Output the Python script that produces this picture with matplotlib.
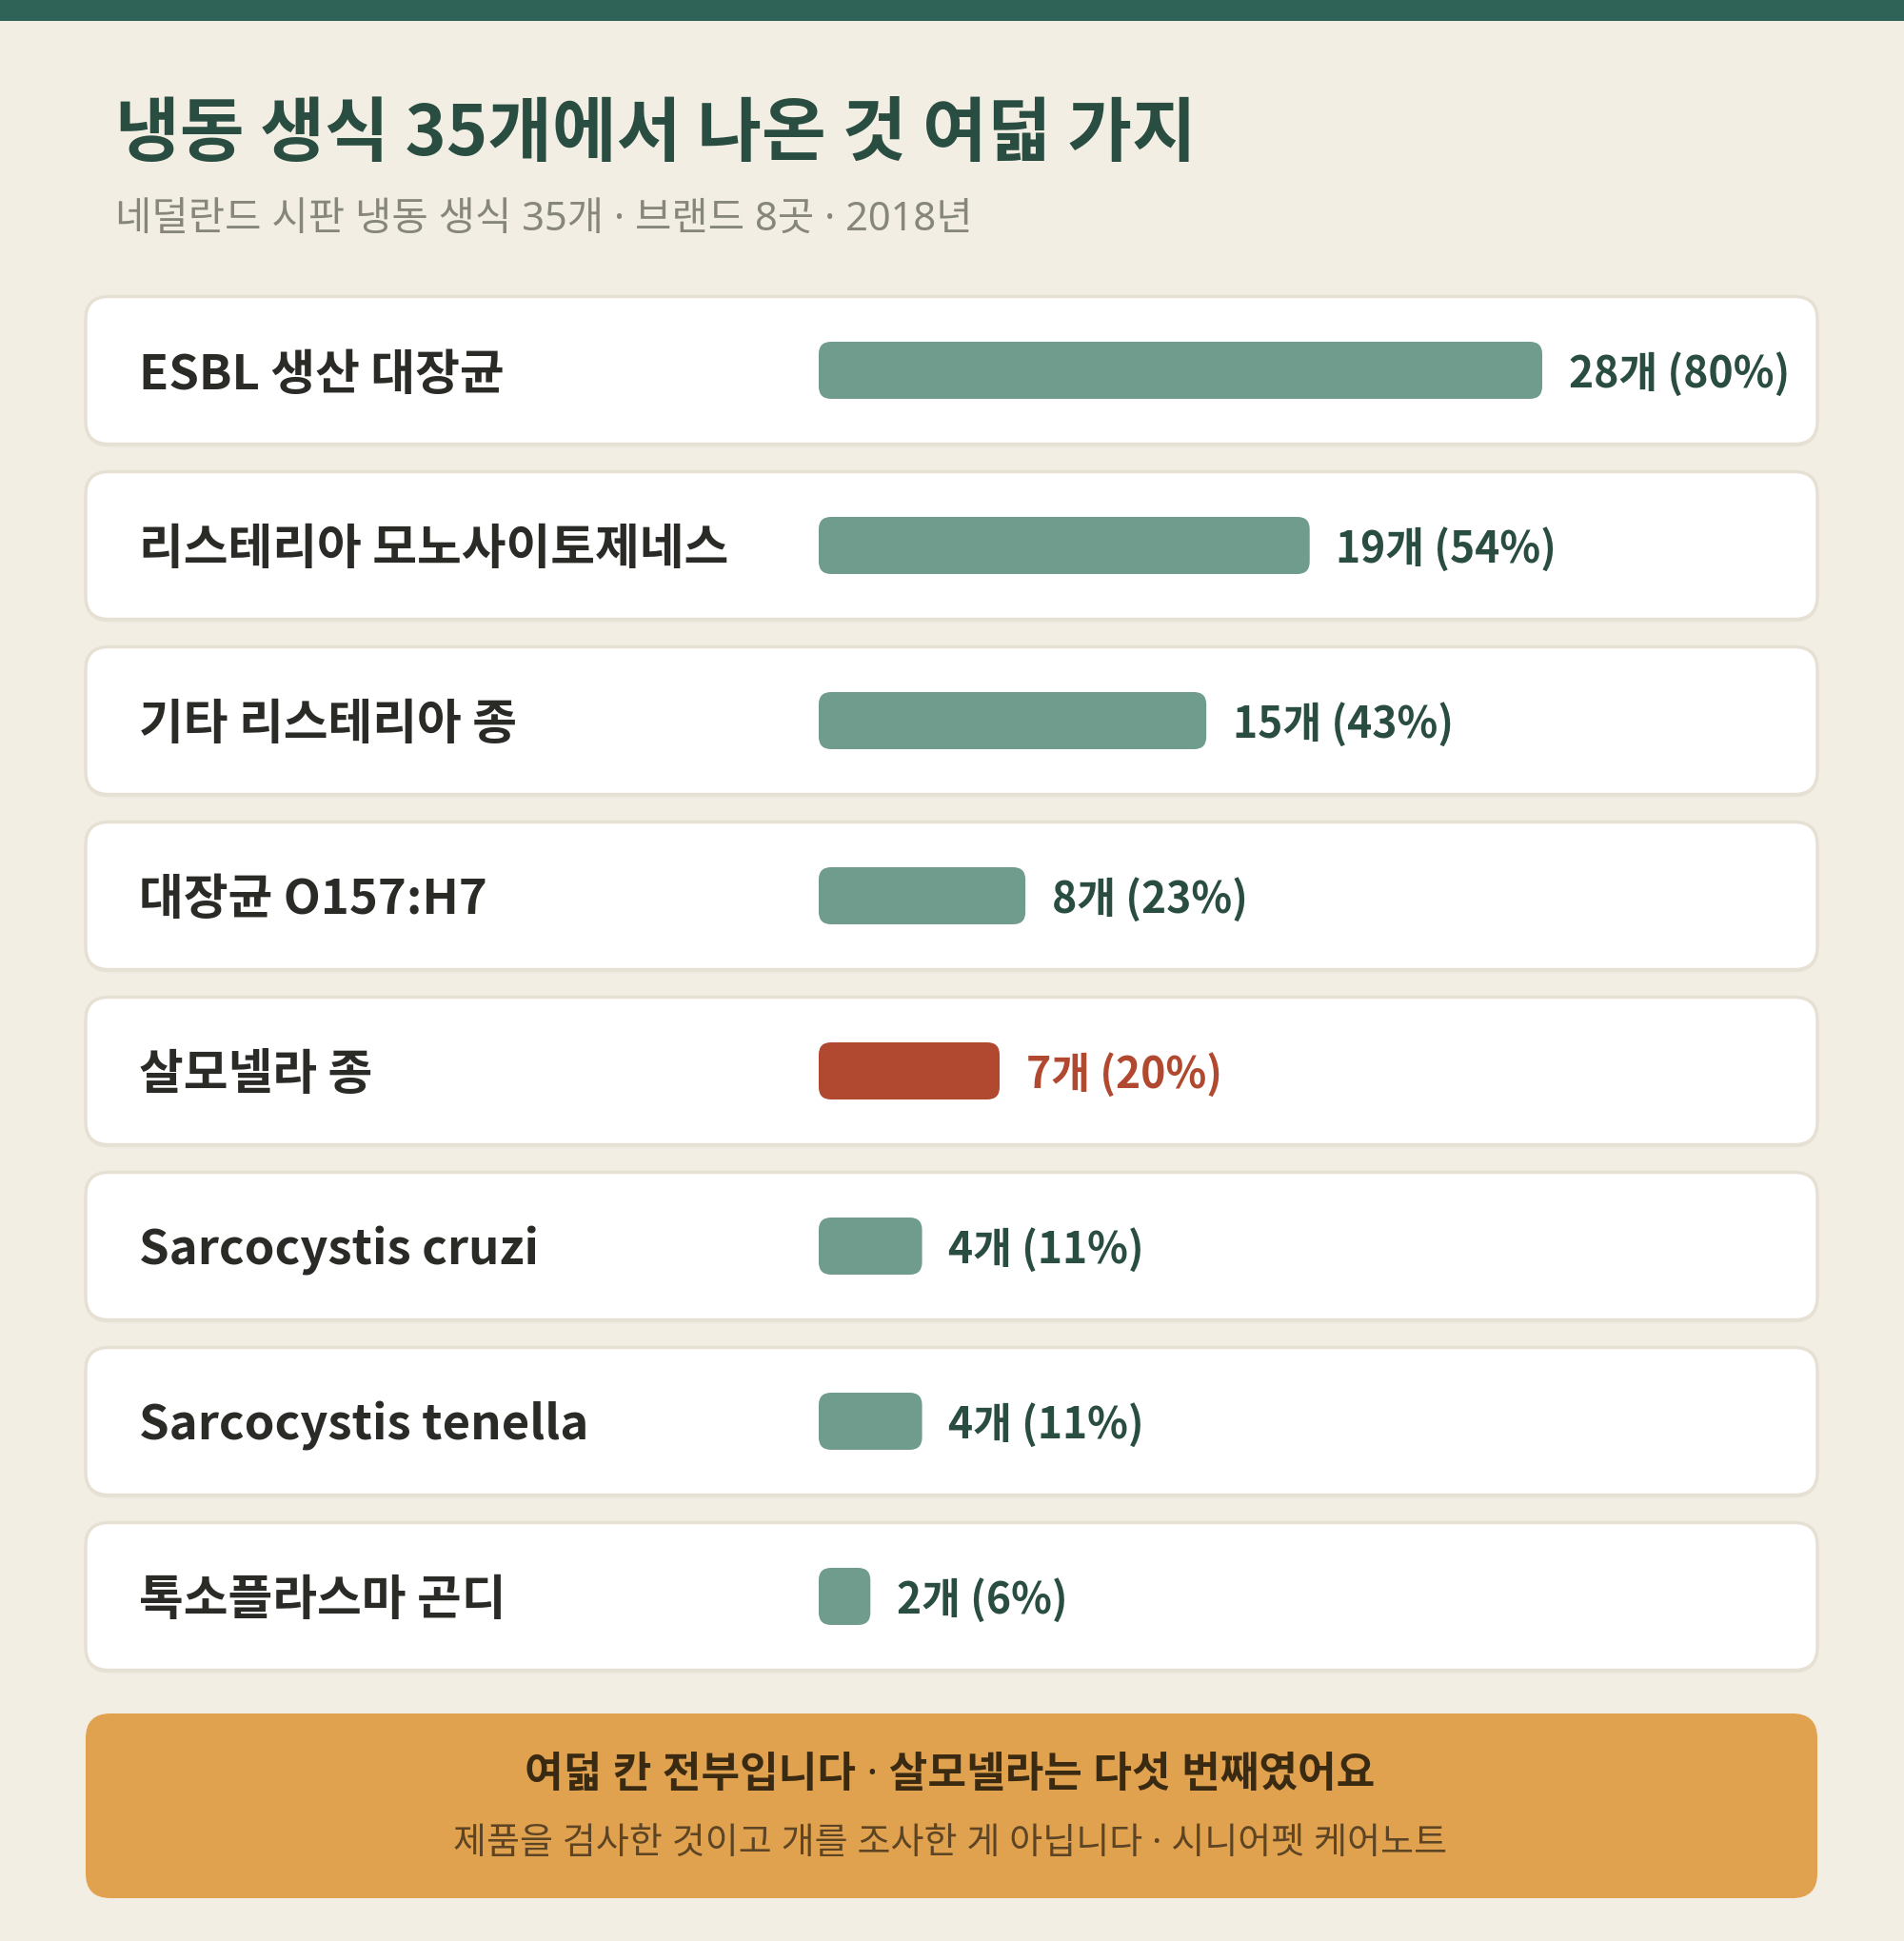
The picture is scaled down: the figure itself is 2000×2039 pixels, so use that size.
import matplotlib.pyplot as plt
from matplotlib.patches import FancyBboxPatch, Rectangle

plt.rcParams['font.family'] = ['Noto Sans CJK KR', 'DejaVu Sans']
# texts with a middle dot: take Latin glyphs from Noto Sans so the dot stays narrow
DOT_FAMILY = ['Noto Sans', 'Noto Sans CJK KR', 'DejaVu Sans']

# data
categories = [
    "ESBL 생산 대장균",
    "리스테리아 모노사이토제네스",
    "기타 리스테리아 종",
    "대장균 O157:H7",
    "살모넬라 종",
    "Sarcocystis cruzi",
    "Sarcocystis tenella",
    "톡소플라스마 곤디",
]
counts = [28, 19, 15, 8, 7, 4, 4, 2]
percents = [80, 54, 43, 23, 20, 11, 11, 6]
total_samples = 35
highlight = "살모넬라 종"

title = "냉동 생식 35개에서 나온 것 여덟 가지"
subtitle = "네덜란드 시판 냉동 생식 35개 · 브랜드 8곳 · 2018년"
note_main = "여덟 칸 전부입니다 · 살모넬라는 다섯 번째였어요"
note_sub = "제품을 검사한 것이고 개를 조사한 게 아닙니다 · 시니어펫 케어노트"

# colours
BG = "#f2eee3"
TOPBAR = "#2f6357"
TITLE_C = "#2a4d42"
SUB_C = "#86867a"
LABEL_C = "#2a2a26"
VALUE_C = "#2a4d42"
BAR_C = "#6f9c8c"
RED_C = "#b0492f"
CARD_EDGE = "#e6e0d2"
NOTE_BG = "#e0a24e"
NOTE_C1 = "#3b2a12"
NOTE_C2 = "#5c4424"

W, H = 2000, 2040
fig = plt.figure(figsize=(W / 200, H / 200), dpi=200, facecolor=BG)

# layout axes in pixel units
ax = fig.add_axes([0, 0, 1, 1])
ax.set_xlim(0, W)
ax.set_ylim(H, 0)
ax.axis("off")

ax.add_patch(Rectangle((0, 0), W, 23, color=TOPBAR, lw=0))
ax.text(121, 142, title, fontsize=26.5, fontweight="black", color=TITLE_C,
        ha="left", va="center")
ax.text(121, 231, subtitle, fontsize=15.0, color=SUB_C, ha="left", va="center",
        family=DOT_FAMILY)

row0, pitch = 390, 184
card_x0, card_x1, card_h = 90, 1909, 155
for i, name in enumerate(categories):
    cy = row0 + i * pitch
    ax.add_patch(FancyBboxPatch((card_x0, cy - card_h / 2 + 3), card_x1 - card_x0, card_h,
                                boxstyle="round,pad=0,rounding_size=24",
                                fc="#e9e4d8", ec="none"))
    ax.add_patch(FancyBboxPatch((card_x0, cy - card_h / 2), card_x1 - card_x0, card_h,
                                boxstyle="round,pad=0,rounding_size=24",
                                fc="white", ec=CARD_EDGE, lw=1.2))
    ax.text(146, cy + 4, name, fontsize=18.3, fontweight="bold", color=LABEL_C,
            ha="left", va="center")

# bar axes: x in counts, one unit per row
px_per_count = 760 / 28
bx_x0 = 860
bx_w = total_samples * px_per_count
top_px = row0 - pitch / 2
bot_px = row0 + (len(categories) - 0.5) * pitch
bx = fig.add_axes([bx_x0 / W, 1 - bot_px / H, bx_w / W, (bot_px - top_px) / H])
bx.set_xlim(0, total_samples)
bx.set_ylim(len(categories) - 0.5, -0.5)
bx.axis("off")
bx.patch.set_alpha(0)

bar_h = 60 / pitch
aspect = (1 / pitch) / (1 / px_per_count)
for i, (name, c, p) in enumerate(zip(categories, counts, percents)):
    col = RED_C if name == highlight else BAR_C
    tcol = RED_C if name == highlight else VALUE_C
    bx.add_patch(FancyBboxPatch((0, i - bar_h / 2), c, bar_h,
                                boxstyle=f"round,pad=0,rounding_size={13 / px_per_count}",
                                mutation_aspect=aspect, fc=col, ec="none"))
    bx.annotate(f"{c}개 ({p}%)", xy=(c, i), xytext=(10, -1.3), textcoords="offset points",
                fontsize=16, fontweight="bold", color=tcol, ha="left", va="center")

# note box
ax.add_patch(FancyBboxPatch((90, 1801), 1819, 194,
                            boxstyle="round,pad=0,rounding_size=26",
                            fc=NOTE_BG, ec="none"))
ax.text(W / 2 - 2, 1866, note_main, fontsize=15.9, fontweight="bold", color=NOTE_C1,
        ha="center", va="center", family=DOT_FAMILY)
ax.text(W / 2 - 2, 1937, note_sub, fontsize=13.7, color=NOTE_C2,
        ha="center", va="center", family=DOT_FAMILY)

fig.savefig("out.png", dpi=200, facecolor=BG)
